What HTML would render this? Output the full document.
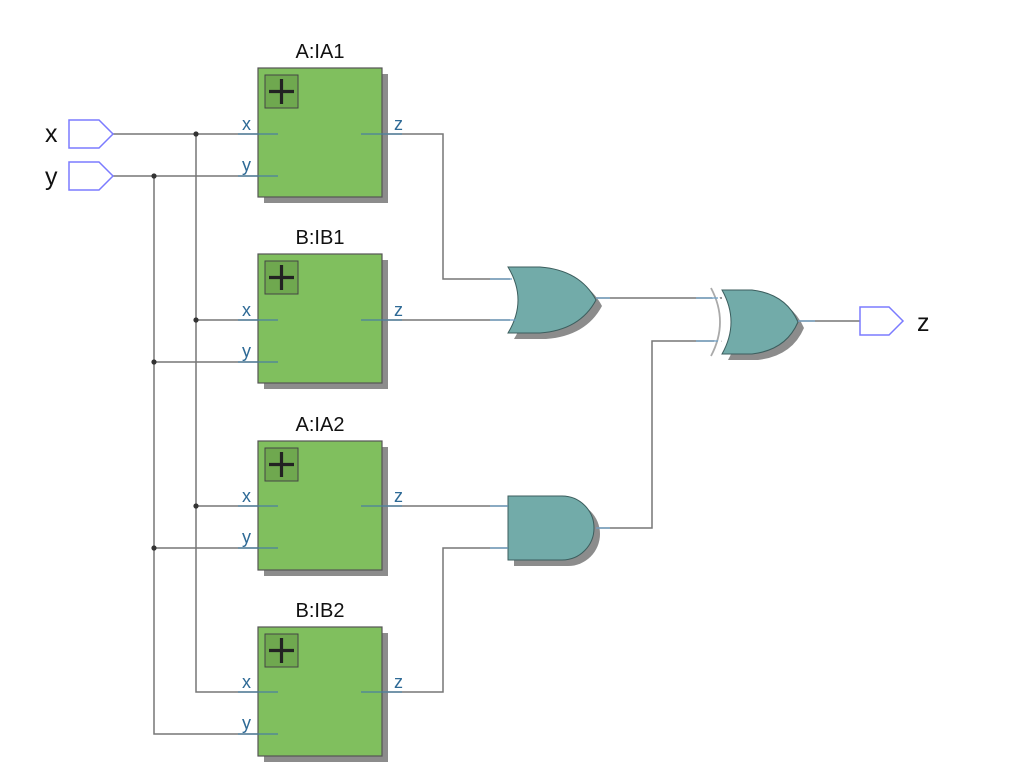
<!DOCTYPE html>
<html><head><meta charset="utf-8"><style>
html,body{margin:0;padding:0;background:#fff;width:1012px;height:784px;overflow:hidden}
text{font-family:"Liberation Sans","DejaVu Sans",sans-serif}
</style></head><body>
<svg width="1012" height="784" viewBox="0 0 1012 784" xmlns="http://www.w3.org/2000/svg">
<defs>
<g id="blk">
  <rect x="6" y="6" width="124" height="129" fill="#8c8c8c"/>
  <rect x="0" y="0" width="124" height="129" fill="#80bf5e" stroke="#555" stroke-width="1.2"/>
  <rect x="7" y="7" width="33" height="33" fill="#6fa84f" stroke="#444" stroke-width="1"/>
  <path d="M23.5 11 V36 M11 23.5 H36" stroke="#222" stroke-width="3.2"/>
</g>
</defs>
<g fill="none" stroke="#777" stroke-width="1.5">
  <path d="M113 134 H258 M113 176 H258"/>
  <path d="M196 134 V692 H258 M154 176 V734 H258"/>
  <path d="M196 320 H258 M196 506 H258 M154 362 H258 M154 548 H258"/>
  <path d="M382 134 H443 V279 H510"/>
  <path d="M382 320 H510"/>
  <path d="M382 506 H510"/>
  <path d="M382 692 H443 V548 H510"/>
  <path d="M596 298 H722 M596 528 H652 V341 H722 M798 321 H860"/>
</g>
<g fill="#333">
  <circle cx="196" cy="134" r="2.6"/><circle cx="196" cy="320" r="2.6"/><circle cx="196" cy="506" r="2.6"/>
  <circle cx="154" cy="176" r="2.6"/><circle cx="154" cy="362" r="2.6"/><circle cx="154" cy="548" r="2.6"/>
</g>
<g fill="#fff" stroke="#7b7bff" stroke-width="1.5">
  <path d="M69 120 H99 L113 134 L99 148 H69 Z"/>
  <path d="M69 162 H99 L113 176 L99 190 H69 Z"/>
  <path d="M860 307 H889 L903 321 L889 335 H860 Z"/>
</g>
<g font-size="25" fill="#111">
  <text x="45" y="142">x</text><text x="45" y="185">y</text><text x="917" y="331">z</text>
</g>
<use href="#blk" x="258" y="68"/>
<use href="#blk" x="258" y="254"/>
<use href="#blk" x="258" y="441"/>
<use href="#blk" x="258" y="627"/>
<g font-size="20" fill="#111" text-anchor="middle">
  <text x="320" y="58">A:IA1</text><text x="320" y="244">B:IB1</text>
  <text x="320" y="431">A:IA2</text><text x="320" y="617">B:IB2</text>
</g>
<g stroke="#4a7fa0" stroke-width="1.3">
  <path d="M238 134 H278 M238 176 H278 M361 134 H402"/>
  <path d="M238 320 H278 M238 362 H278 M361 320 H402"/>
  <path d="M238 506 H278 M238 548 H278 M361 506 H402"/>
  <path d="M238 692 H278 M238 734 H278 M361 692 H402"/>
</g>
<g font-size="18" fill="#2e6a96">
  <text x="242" y="130">x</text><text x="242" y="171">y</text><text x="394" y="130">z</text>
  <text x="242" y="316">x</text><text x="242" y="357">y</text><text x="394" y="316">z</text>
  <text x="242" y="502">x</text><text x="242" y="543">y</text><text x="394" y="502">z</text>
  <text x="242" y="688">x</text><text x="242" y="729">y</text><text x="394" y="688">z</text>
</g>
<path transform="translate(6,6)" d="M508 267 H540 Q580 270 596 300 Q580 330 540 333 H508 Q528 300 508 267 Z" fill="#8c8c8c"/>
<path d="M508 267 H540 Q580 270 596 300 Q580 330 540 333 H508 Q528 300 508 267 Z" fill="#72aba9" stroke="#3c5e5e" stroke-width="1"/>
<path transform="translate(6,6)" d="M508 496 H562 A32 32 0 0 1 562 560 H508 Z" fill="#8c8c8c"/>
<path d="M508 496 H562 A32 32 0 0 1 562 560 H508 Z" fill="#72aba9" stroke="#3c5e5e" stroke-width="1"/>
<path transform="translate(6,6)" d="M722 290 H752 Q786 294 798 322 Q786 350 752 354 H722 Q740 322 722 290 Z" fill="#8c8c8c"/>
<path d="M722 290 H752 Q786 294 798 322 Q786 350 752 354 H722 Q740 322 722 290 Z" fill="#72aba9" stroke="#3c5e5e" stroke-width="1"/>
<path d="M712 289 Q730 322 712 355" fill="none" stroke="#fff" stroke-width="7"/>
<path d="M711 288 Q729 322 711 356" fill="none" stroke="#aaa" stroke-width="1.8"/>
<g stroke="#6ea0c8" stroke-width="1.3">
  <path d="M490 279 H512 M490 320 H516 M490 506 H508 M490 548 H508 M596 298 H610 M596 528 H610 M696 298 H718 M696 341 H718 M798 321 H815"/>
</g>
</svg>
</body></html>
